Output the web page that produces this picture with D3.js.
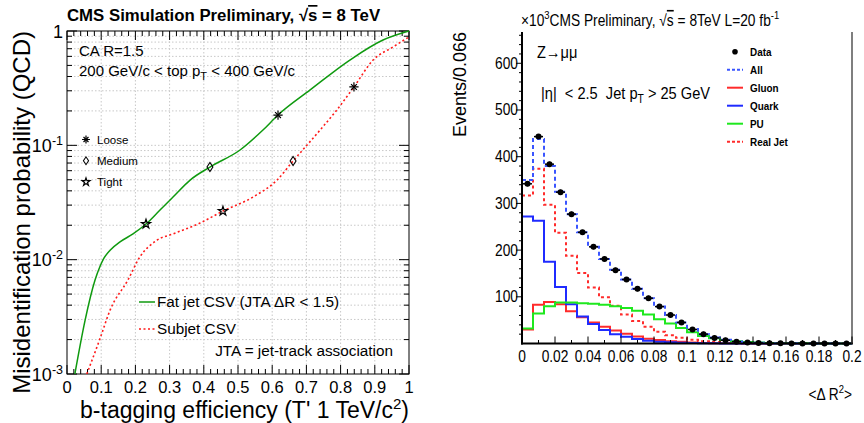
<!DOCTYPE html>
<html>
<head>
<meta charset="utf-8">
<script src="https://cdn.jsdelivr.net/npm/d3@7"></script>
<style>
  body { margin: 0; background: #fff; }
  svg { display: block; }
  text { font-family: "Liberation Sans", Arial, Helvetica, sans-serif; fill: #000; white-space: pre; }
</style>
</head>
<body>
<svg id="chart" width="864" height="423"></svg>
<script>
// ---------- Left panel: mistag rate vs b-tagging efficiency ----------
const fatJetEff    = [0.023, 0.053, 0.082, 0.097, 0.108, 0.126, 0.155, 0.193, 0.231, 0.272, 0.310, 0.360, 0.418, 0.506, 0.573, 0.617, 0.711, 0.827, 0.924, 1.0];
const fatJetMistag = [0.001, 0.00296, 0.00663, 0.00879, 0.0103, 0.0121, 0.0143, 0.0168, 0.0205, 0.0272, 0.0353, 0.0497, 0.0646, 0.091, 0.136, 0.184, 0.305, 0.557, 0.834, 1.0];
const subjetEff    = [0.058, 0.097, 0.126, 0.178, 0.213, 0.263, 0.310, 0.389, 0.456, 0.544, 0.614, 0.661, 0.740, 0.789, 0.839, 0.895, 0.953, 1.0];
const subjetMistag = [0.001, 0.00206, 0.00362, 0.00663, 0.01054, 0.0148, 0.0168, 0.0209, 0.0266, 0.0353, 0.0497, 0.0729, 0.136, 0.204, 0.324, 0.557, 0.724, 0.887];

const wpNames        = ["Loose", "Medium", "Tight"];
const fatJetWpEff    = [0.617, 0.418, 0.231];
const fatJetWpMistag = [0.184, 0.0646, 0.0205];
const subjetWpEff    = [0.839, 0.661, 0.456];
const subjetWpMistag = [0.324, 0.0729, 0.0266];

const effTicks    = [0, 0.1, 0.2, 0.3, 0.4, 0.5, 0.6, 0.7, 0.8, 0.9, 1];
const effTickText = ["0", "0.1", "0.2", "0.3", "0.4", "0.5", "0.6", "0.7", "0.8", "0.9", "1"];
const mistagTicks = [1e-3, 1e-2, 1e-1, 1];
const mistagExp   = ["-3", "-2", "-1", null];

// ---------- Right panel: <ΔR²> for jets in Z→μμ events (×10³) ----------
const nBins = 30;
const drMin = 0, drMax = 0.2;
const dataCounts    = [342, 443, 384, 324, 277, 238, 207, 181, 157, 137, 117, 97, 79, 61, 45, 30, 20, 12, 7, 4, 2, 1, 0.5, 0.3, 0.2, 0.1, 0.1, 0.1, 0.1, 0.1];
const allCounts     = [350, 438, 380, 325, 277, 238, 207, 181, 158, 137, 117, 97, 79, 61, 45, 31, 20, 13, 8, 4.5, 2.5, 1.5, 0.8, 0.5, 0.3, 0.2, 0.1, 0.1, 0, 0];
const gluonCounts   = [30, 83, 89, 84, 69, 56, 45, 36, 28, 21, 15, 10, 7.5, 5, 3.5, 2, 1.2, 0.8, 0.5, 0.3, 0.2, 0.1, 0, 0, 0, 0, 0, 0, 0, 0];
const quarkCounts   = [272, 263, 175, 121, 84, 58, 42, 29, 20, 14.6, 9.6, 6, 4, 2.5, 1.5, 1, 0.5, 0.3, 0.2, 0.1, 0, 0, 0, 0, 0, 0, 0, 0, 0, 0];
const puCounts      = [32, 64, 80, 88, 88, 86, 85, 83, 80, 76, 70, 62, 52, 43, 33, 24, 16, 11, 7.5, 4.7, 3, 2, 1.2, 0.8, 0.5, 0.3, 0.2, 0.1, 0, 0];
const realJetCounts = [317, 374, 297, 237, 188, 151, 120, 99, 81, 62, 48, 36, 25, 17.5, 12.5, 8, 5, 3, 2, 1, 0.5, 0.3, 0.2, 0.1, 0, 0, 0, 0, 0, 0];

const drTicks     = [0, 0.02, 0.04, 0.06, 0.08, 0.1, 0.12, 0.14, 0.16, 0.18, 0.2];
const drTickText  = ["0", "0.02", "0.04", "0.06", "0.08", "0.1", "0.12", "0.14", "0.16", "0.18", "0.2"];
const countTicks  = [100, 200, 300, 400, 500, 600];

const svg = d3.select("#chart");

// ====================== LEFT PANEL ======================
const xL = d3.scaleLinear().domain([0, 1]).range([67, 409]);
const yL = d3.scaleLog().domain([1e-3, 1]).range([374, 31]);
const L = svg.append("g");

// dotted grid
const minorLog = [];
[1e-3, 1e-2, 1e-1].forEach(d => { for (let k = 1; k <= 9; k++) minorLog.push(d * k); });
minorLog.push(1);
L.append("g").selectAll("line").data(minorLog.filter(v => v > 1e-3 && v < 1)).join("line")
  .attr("x1", xL(0)).attr("x2", xL(1)).attr("y1", d => yL(d)).attr("y2", d => yL(d))
  .attr("stroke", "#c8c8c8").attr("stroke-width", 1).attr("stroke-dasharray", "1.5,2");
L.append("g").selectAll("line").data(effTicks.slice(1, -1)).join("line")
  .attr("x1", d => xL(d)).attr("x2", d => xL(d)).attr("y1", yL(1)).attr("y2", yL(1e-3))
  .attr("stroke", "#c8c8c8").attr("stroke-width", 1).attr("stroke-dasharray", "1.5,2");

// frame
L.append("rect").attr("x", xL(0)).attr("y", yL(1)).attr("width", xL(1) - xL(0)).attr("height", yL(1e-3) - yL(1))
  .attr("fill", "none").attr("stroke", "#000").attr("stroke-width", 1);

// ticks (inside, on all four sides)
const effMinor = d3.range(0, 1.0001, 0.02);
const tk = L.append("g").attr("stroke", "#000").attr("stroke-width", 1);
effMinor.forEach(v => {
  const major = Math.abs(v * 10 - Math.round(v * 10)) < 1e-6;
  const len = major ? 9 : 5;
  tk.append("line").attr("x1", xL(v)).attr("x2", xL(v)).attr("y1", yL(1e-3)).attr("y2", yL(1e-3) - len);
  tk.append("line").attr("x1", xL(v)).attr("x2", xL(v)).attr("y1", yL(1)).attr("y2", yL(1) + len);
});
minorLog.forEach(v => {
  const major = mistagTicks.some(m => Math.abs(m - v) / m < 1e-6);
  const len = major ? 10 : 5;
  tk.append("line").attr("x1", xL(0)).attr("x2", xL(0) + len).attr("y1", yL(v)).attr("y2", yL(v));
  tk.append("line").attr("x1", xL(1)).attr("x2", xL(1) - len).attr("y1", yL(v)).attr("y2", yL(v));
});

// tick labels
L.append("g").selectAll("text").data(effTicks).join("text")
  .attr("x", d => xL(d)).attr("y", 393).attr("text-anchor", "middle")
  .attr("font-size", 16.5).text((d, i) => effTickText[i]);
mistagTicks.forEach((v, i) => {
  const t = L.append("text").attr("x", 63).attr("y", yL(v) + 6.5).attr("text-anchor", "end").attr("font-size", 18);
  if (mistagExp[i] === null) t.text("1");
  else t.html(`10<tspan font-size="12.5" dy="-7">${mistagExp[i]}</tspan>`);
});

// axis titles
L.append("text").attr("x", 409).attr("y", 418).attr("text-anchor", "end").attr("font-size", 23)
  .html(`b-tagging efficiency (T' 1 TeV/c<tspan font-size="15" dy="-9">2</tspan><tspan dy="9">)</tspan>`);
L.append("text").attr("transform", "translate(30,31) rotate(-90)").attr("text-anchor", "end").attr("font-size", 24)
  .text("Misidentification probability (QCD)");

// title
L.append("text").attr("x", 67).attr("y", 21).attr("font-size", 16.8).attr("font-weight", "bold")
  .html(`CMS Simulation Preliminary, √<tspan text-decoration="overline">s</tspan> = 8 TeV`);

// curves
const lineL = d3.line().x(d => xL(d[0])).y(d => yL(d[1])).curve(d3.curveMonotoneX);
const clipId = "clipL";
svg.append("clipPath").attr("id", clipId).append("rect")
  .attr("x", xL(0)).attr("y", yL(1) - 1).attr("width", xL(1) - xL(0)).attr("height", yL(1e-3) - yL(1) + 1);
const green = "#0f9a0f", red = "#ff1a1a";
L.append("path").attr("clip-path", `url(#${clipId})`)
  .attr("d", lineL(d3.zip(fatJetEff, fatJetMistag)))
  .attr("fill", "none").attr("stroke", green).attr("stroke-width", 1.5);
L.append("path").attr("clip-path", `url(#${clipId})`)
  .attr("d", lineL(d3.zip(subjetEff, subjetMistag)))
  .attr("fill", "none").attr("stroke", red).attr("stroke-width", 1.6).attr("stroke-dasharray", "2,2.5");

// working-point markers: 8-ray star, open diamond, open five-point star
function drawMarker(g, x, y, name, s) {
  if (name === "Loose") {
    g.append("path").attr("d", d3.symbol(d3.symbolPlus, 30 * s)())
      .attr("transform", `translate(${x},${y})`)
      .attr("fill", "none").attr("stroke", "#000").attr("stroke-width", 1.2);
    g.append("path").attr("d", d3.symbol(d3.symbolPlus, 24 * s)())
      .attr("transform", `translate(${x},${y}) rotate(45)`)
      .attr("fill", "none").attr("stroke", "#000").attr("stroke-width", 1.2);
  } else if (name === "Medium") {
    g.append("path").attr("d", d3.symbol(d3.symbolSquare, 28 * s)())
      .attr("transform", `translate(${x},${y}) scale(0.8,1.2) rotate(45)`)
      .attr("fill", "none").attr("stroke", "#000").attr("stroke-width", 1.1);
  } else {
    g.append("path").attr("d", d3.symbol(d3.symbolStar, 26 * s)())
      .attr("transform", `translate(${x},${y})`)
      .attr("fill", "none").attr("stroke", "#000").attr("stroke-width", 1.2);
  }
}
wpNames.forEach((n, i) => {
  drawMarker(L, xL(fatJetWpEff[i]), yL(fatJetWpMistag[i]), n, 1);
  drawMarker(L, xL(subjetWpEff[i]), yL(subjetWpMistag[i]), n, 1);
});

// in-plot labels
L.append("text").attr("x", 79).attr("y", 56).attr("font-size", 15).text("CA R=1.5");
L.append("text").attr("x", 79).attr("y", 76).attr("font-size", 15)
  .html(`200 GeV/c &lt; top p<tspan font-size="11" dy="4">T</tspan><tspan dy="-4"> &lt; 400 GeV/c</tspan>`);

const wpLegendY = [139.5, 160.7, 182];
wpNames.forEach((n, i) => {
  drawMarker(L, 86, wpLegendY[i], n, 0.75);
  L.append("text").attr("x", 97).attr("y", wpLegendY[i] + 4).attr("font-size", 11.5).text(n);
});

L.append("line").attr("x1", 139).attr("x2", 155).attr("y1", 302).attr("y2", 302)
  .attr("stroke", green).attr("stroke-width", 1.5);
L.append("text").attr("x", 157).attr("y", 307).attr("font-size", 15.3).text("Fat jet CSV (JTA ΔR < 1.5)");
L.append("line").attr("x1", 139).attr("x2", 155).attr("y1", 329).attr("y2", 329)
  .attr("stroke", red).attr("stroke-width", 1.6).attr("stroke-dasharray", "2,2.5");
L.append("text").attr("x", 157).attr("y", 334).attr("font-size", 15.3).text("Subjet CSV");
L.append("text").attr("x", 393).attr("y", 356).attr("text-anchor", "end").attr("font-size", 15.3)
  .text("JTA = jet-track association");

// ====================== RIGHT PANEL ======================
const xR = d3.scaleLinear().domain([drMin, drMax]).range([522, 852]);
const yR = d3.scaleLinear().domain([0, 667]).range([343.5, 32]);
const R = svg.append("g");
const squeeze = 0.86;

function ntext(g, x, y, anchor, size, html, weight) {
  const t = g.append("text")
    .attr("transform", `translate(${x},${y}) scale(${squeeze},1)`)
    .attr("text-anchor", anchor).attr("font-size", size);
  if (weight) t.attr("font-weight", weight);
  t.html(html);
  return t;
}

const binLow = d3.range(nBins).map(i => drMin + (drMax - drMin) * i / nBins);
const binW = (drMax - drMin) / nBins;

function stepPoints(counts) {
  const pts = counts.map((c, i) => [binLow[i], c]);
  pts.push([drMax, counts[counts.length - 1]]);
  return pts;
}
const stepLine = d3.line().x(d => xR(d[0])).y(d => yR(d[1])).curve(d3.curveStepAfter);

const cBlue = "#1f2bff", cRed = "#ff2b2b", cGreen = "#1ee81e", cAll = "#3a55ff";
const hists = [
  { counts: realJetCounts, color: cRed,   dash: "3,3" },
  { counts: gluonCounts,   color: cRed,   dash: null },
  { counts: quarkCounts,   color: cBlue,  dash: null },
  { counts: puCounts,      color: cGreen, dash: null },
  { counts: allCounts,     color: cAll,   dash: "4,3" }
];
hists.forEach(h => {
  const p = R.append("path").attr("d", stepLine(stepPoints(h.counts)))
    .attr("fill", "none").attr("stroke", h.color).attr("stroke-width", 2);
  if (h.dash) p.attr("stroke-dasharray", h.dash);
});

// data points with bin-width error bars
const dg = R.append("g");
dataCounts.forEach((c, i) => {
  const cx = xR(binLow[i] + binW / 2);
  dg.append("line").attr("x1", xR(binLow[i]) + 1).attr("x2", xR(binLow[i] + binW) - 1)
    .attr("y1", yR(c)).attr("y2", yR(c)).attr("stroke", "#000").attr("stroke-width", 1.5);
  dg.append("line").attr("x1", cx).attr("x2", cx)
    .attr("y1", yR(c) - 2.5).attr("y2", yR(c) + 2.5).attr("stroke", "#000").attr("stroke-width", 1.2);
  dg.append("circle").attr("cx", cx).attr("cy", yR(c)).attr("r", 3).attr("fill", "#000");
});

// axes lines
R.append("line").attr("x1", xR(drMin)).attr("x2", xR(drMin)).attr("y1", 32).attr("y2", yR(0) + 1)
  .attr("stroke", "#000").attr("stroke-width", 2);
R.append("line").attr("x1", xR(drMin) - 1).attr("x2", xR(drMax) + 1).attr("y1", yR(0)).attr("y2", yR(0))
  .attr("stroke", "#000").attr("stroke-width", 2);
R.append("line").attr("x1", xR(drMax)).attr("x2", xR(drMax)).attr("y1", 32).attr("y2", yR(0))
  .attr("stroke", "#555").attr("stroke-width", 1.5);

// y ticks (outside) and labels
const tr = R.append("g").attr("stroke", "#000").attr("stroke-width", 1);
d3.range(20, 661, 20).forEach(v => {
  const major = v % 100 === 0;
  tr.append("line").attr("x1", xR(drMin) - (major ? 6 : 3)).attr("x2", xR(drMin)).attr("y1", yR(v)).attr("y2", yR(v));
});
countTicks.forEach(v => ntext(R, 518, yR(v) + 5.5, "end", 16, String(v)));

// x ticks (inside) and labels
d3.range(0, 21).forEach(k => {
  const v = drMin + k * 0.01;
  const major = k % 2 === 0;
  tr.append("line").attr("x1", xR(v)).attr("x2", xR(v)).attr("y1", yR(0)).attr("y2", yR(0) - (major ? 7 : 3.5));
});
drTicks.forEach((v, i) => ntext(R, xR(v), 362, "middle", 16, drTickText[i]));

// titles
ntext(R, 521, 26, "start", 16,
  `×10<tspan font-size="11" dy="-7">3</tspan><tspan dy="7">CMS Preliminary, √</tspan><tspan text-decoration="overline">s</tspan> = 8TeV L=20 fb<tspan font-size="11" dy="-7">-1</tspan>`);
ntext(R, 852, 400, "end", 16, `&lt;Δ R<tspan font-size="11" dy="-7">2</tspan><tspan dy="7">&gt;</tspan>`);
R.append("text").attr("transform", "translate(466,32) rotate(-90)")
  .attr("text-anchor", "end").attr("font-size", 18).text("Events/0.066");

// in-plot labels
ntext(R, 537, 58, "start", 17, "Z→μμ");
ntext(R, 541, 99, "start", 17, `|η|  &lt; 2.5  Jet p<tspan font-size="12" dy="4">T</tspan><tspan dy="-4"> &gt; 25 GeV</tspan>`);

// legend
const legItems = [
  { label: "Data",     type: "dot" },
  { label: "All",      color: cAll,   dash: "3,2" },
  { label: "Gluon",    color: cRed,   dash: null },
  { label: "Quark",    color: cBlue,  dash: null },
  { label: "PU",       color: cGreen, dash: null },
  { label: "Real Jet", color: cRed,   dash: "3,2" }
];
legItems.forEach((it, i) => {
  const y = 51.7 + i * 18;
  if (it.type === "dot") {
    R.append("circle").attr("cx", 735).attr("cy", y).attr("r", 2.8).attr("fill", "#000");
  } else {
    const l = R.append("line").attr("x1", 727).attr("x2", 743).attr("y1", y).attr("y2", y)
      .attr("stroke", it.color).attr("stroke-width", 2);
    if (it.dash) l.attr("stroke-dasharray", it.dash);
  }
  ntext(R, 750, y + 4, "start", 11.5, it.label, "bold");
});
</script>
</body>
</html>
